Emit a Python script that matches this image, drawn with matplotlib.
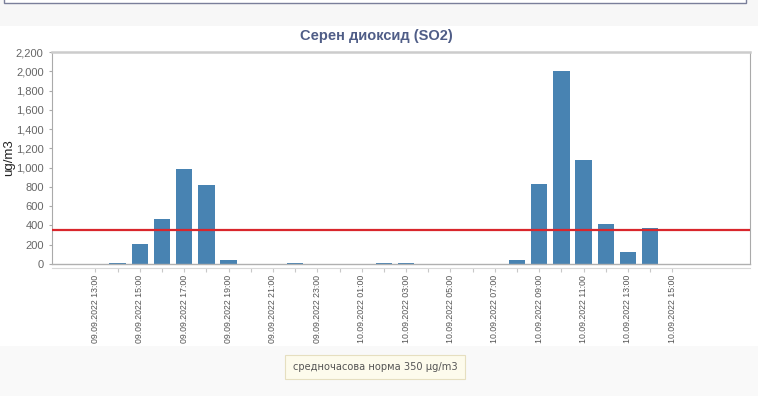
import matplotlib

matplotlib.use('Agg')
import matplotlib.pyplot as plt
from matplotlib.patches import Rectangle
import numpy as np

plt.rcParams['font.family'] = ['Liberation Sans', 'DejaVu Sans']

# Hourly SO2 values, 09.09.2022 13:00 .. 10.09.2022 15:00
hours = ['09.09.2022 13:00', '09.09.2022 14:00', '09.09.2022 15:00', '09.09.2022 16:00',
         '09.09.2022 17:00', '09.09.2022 18:00', '09.09.2022 19:00', '09.09.2022 20:00',
         '09.09.2022 21:00', '09.09.2022 22:00', '09.09.2022 23:00', '10.09.2022 00:00',
         '10.09.2022 01:00', '10.09.2022 02:00', '10.09.2022 03:00', '10.09.2022 04:00',
         '10.09.2022 05:00', '10.09.2022 06:00', '10.09.2022 07:00', '10.09.2022 08:00',
         '10.09.2022 09:00', '10.09.2022 10:00', '10.09.2022 11:00', '10.09.2022 12:00',
         '10.09.2022 13:00', '10.09.2022 14:00', '10.09.2022 15:00']
so2 = [3, 15, 205, 462, 982, 815, 42, 4, 4, 9, 5, 5, 4, 12, 9, 4, 4, 3, 3, 38,
       830, 2003, 1078, 410, 124, 376, np.nan]
norm = 350
y_ticks = [0, 200, 400, 600, 800, 1000, 1200, 1400, 1600, 1800, 2000, 2200]

W, H = 758, 396
fig = plt.figure(figsize=(W / 100, H / 100), dpi=100)
fig.patch.set_facecolor('white')

# page background bands
fig.add_artist(Rectangle((0, 1 - 26 / H), 1, 26 / H, transform=fig.transFigure,
                         facecolor='#f7f7f7', edgecolor='none', zorder=0))
fig.add_artist(Rectangle((4 / W, 1 - 3 / H), 742 / W, 10 / H, transform=fig.transFigure,
                         facecolor='white', edgecolor='#7a7f9a', linewidth=1, zorder=1))
fig.add_artist(Rectangle((0, 0), 1, 50 / H, transform=fig.transFigure,
                         facecolor='#f9f9f9', edgecolor='none', zorder=0))

ax = fig.add_axes([52 / W, 1 - 264 / H, 698 / W, 212 / H])
# spine position first: it resets the tick settings
ax.spines['bottom'].set_position(('outward', 3))
ax.spines['bottom'].set_color('#d8d8d8')
ax.spines['left'].set_color('#aaaaaa')
ax.spines['right'].set_color('#aaaaaa')
ax.spines['top'].set_color('#cccccc')
ax.spines['top'].set_linewidth(1.8)

x = np.arange(len(hours))
ax.bar(x, so2, width=0.74, color='#4883b2', zorder=2)
ax.axhline(norm, color='#d9262c', linewidth=1.6, zorder=3)
ax.axhline(0, color='#b0b0b0', linewidth=1, zorder=4, clip_on=False)

ax.set_xlim(-1.96, 29.5)
ax.set_ylim(0, 2200)
ax.set_yticks(y_ticks)
ax.set_yticklabels([f'{v:,}' for v in y_ticks], color='#666666', fontsize=8)
ax.tick_params(axis='y', length=2, color='#aaaaaa', pad=4)

ax.set_xticks(x)
ax.set_xticklabels([h if i % 2 == 0 else '' for i, h in enumerate(hours)],
                   rotation=90, fontsize=6.3, color='#555555')
ax.tick_params(axis='x', length=3, color='#c8c8c8', pad=2)

ax.set_ylabel('ug/m3', fontsize=9.5, color='#222222')
ax.yaxis.set_label_coords(-37 / 698, 0.5)

fig.text(376 / W, 1 - 36 / H, 'Серен диоксид (SO2)', fontsize=10.5, fontweight='bold',
         color='#4f5d87', ha='center', va='center')

fig.text(375 / W, 1 - 367 / H, 'средночасова норма 350 µg/m3', family='DejaVu Sans',
         fontsize=7.1, color='#555555', ha='center', va='center',
         bbox=dict(boxstyle='square,pad=0.75', facecolor='#fdfbec', edgecolor='#e6dfc0',
                   linewidth=0.8))

fig.savefig('out.png', dpi=100)
